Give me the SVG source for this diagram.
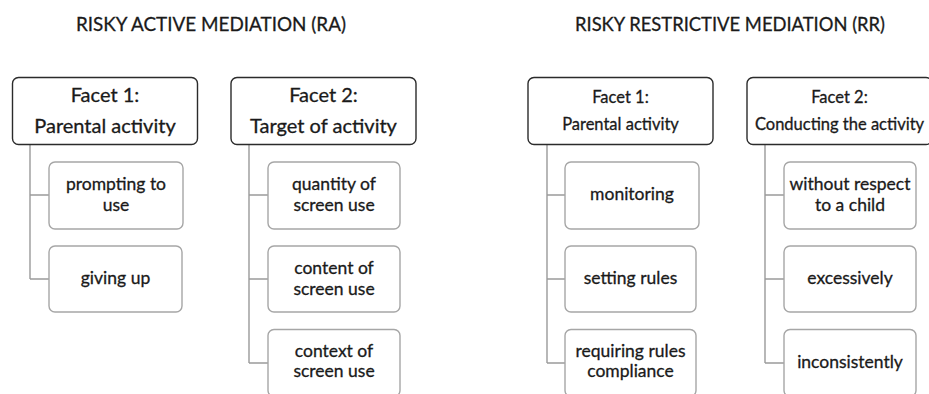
<svg xmlns="http://www.w3.org/2000/svg" width="929" height="394" viewBox="0 0 929 394">
  <style>
    text { font-family: Lato, "Open Sans", "Liberation Sans", sans-serif; fill: #1a1a1a; stroke: #1a1a1a; stroke-width: 0.3; text-anchor: middle; }
    .title { font-size: 20px; text-anchor: start; }
    .hdr { fill: #fff; stroke: #2b2b2b; stroke-width: 1.4; }
    .child { fill: #fff; stroke: #a6a6a6; stroke-width: 1.4; }
    .big { font-size: 20px; }
    .small { font-size: 16.5px; }
    .item { font-size: 17.5px; }
    .conn path { fill: none; stroke: #9a9a9a; stroke-width: 1.4; }
  </style>

  <!-- section titles -->
  <text id="title-ra" class="title" x="76" y="31" textLength="270" lengthAdjust="spacingAndGlyphs">RISKY ACTIVE MEDIATION (RA)</text>
  <text id="title-rr" class="title" x="575" y="31" textLength="310" lengthAdjust="spacingAndGlyphs">RISKY RESTRICTIVE MEDIATION (RR)</text>

  <!-- tree connectors -->
  <g id="connectors" class="conn">
    <path d="M30 144 V279 M30 195 H49 M30 279 H49"/>
    <path d="M249 144 V363 M249 195 H268 M249 279 H268 M249 363 H268"/>
    <path d="M547 144 V363 M547 195 H565 M547 279 H565 M547 363 H565"/>
    <path d="M765 144 V363 M765 195 H784 M765 279 H784 M765 363 H784"/>
  </g>

  <!-- RA facet 1 -->
  <g id="ra-facet1">
    <rect class="hdr" x="12.5" y="77.5" width="185" height="67" rx="6"/>
    <text class="big" x="105" y="101.5">Facet 1:</text>
    <text class="big" x="105" y="133">Parental activity</text>
  </g>
  <g id="ra-prompting">
    <rect class="child" x="49" y="162" width="134" height="67" rx="6"/>
    <text class="item" x="116" y="190">prompting to</text>
    <text class="item" x="116" y="210.5">use</text>
  </g>
  <g id="ra-giving-up">
    <rect class="child" x="49" y="246" width="133" height="66" rx="6"/>
    <text class="item" x="115.5" y="284">giving up</text>
  </g>

  <!-- RA facet 2 -->
  <g id="ra-facet2">
    <rect class="hdr" x="231" y="77.5" width="185" height="67" rx="6"/>
    <text class="big" x="323.5" y="101.5">Facet 2:</text>
    <text class="big" x="323.5" y="133">Target of activity</text>
  </g>
  <g id="ra-quantity">
    <rect class="child" x="268" y="162" width="132" height="67" rx="6"/>
    <text class="item" x="334" y="190">quantity of</text>
    <text class="item" x="334" y="210.5">screen use</text>
  </g>
  <g id="ra-content">
    <rect class="child" x="268" y="246" width="132" height="66" rx="6"/>
    <text class="item" x="334" y="274">content of</text>
    <text class="item" x="334" y="294.5">screen use</text>
  </g>
  <g id="ra-context">
    <rect class="child" x="268" y="329.5" width="132" height="67" rx="6"/>
    <text class="item" x="334" y="357">context of</text>
    <text class="item" x="334" y="377">screen use</text>
  </g>

  <!-- RR facet 1 -->
  <g id="rr-facet1">
    <rect class="hdr" x="528" y="77.5" width="185" height="67" rx="6"/>
    <text class="small" x="620.5" y="102.5">Facet 1:</text>
    <text class="small" x="620.5" y="130">Parental activity</text>
  </g>
  <g id="rr-monitoring">
    <rect class="child" x="565" y="162" width="134" height="67" rx="6"/>
    <text class="item" x="632" y="200">monitoring</text>
  </g>
  <g id="rr-setting-rules">
    <rect class="child" x="565" y="246" width="131" height="66" rx="6"/>
    <text class="item" x="630.5" y="284">setting rules</text>
  </g>
  <g id="rr-requiring">
    <rect class="child" x="565" y="329.5" width="131" height="67" rx="6"/>
    <text class="item" x="630.5" y="357">requiring rules</text>
    <text class="item" x="630.5" y="377">compliance</text>
  </g>

  <!-- RR facet 2 -->
  <g id="rr-facet2">
    <rect class="hdr" x="747" y="77.5" width="185" height="67" rx="6"/>
    <text class="small" x="839.5" y="102.5">Facet 2:</text>
    <text class="small" x="839.5" y="130">Conducting the activity</text>
  </g>
  <g id="rr-without-respect">
    <rect class="child" x="784" y="162" width="132" height="67" rx="6"/>
    <text class="item" x="850" y="190">without respect</text>
    <text class="item" x="850" y="210.5">to a child</text>
  </g>
  <g id="rr-excessively">
    <rect class="child" x="784" y="246" width="132" height="66" rx="6"/>
    <text class="item" x="850" y="284">excessively</text>
  </g>
  <g id="rr-inconsistently">
    <rect class="child" x="784" y="329.5" width="132" height="67" rx="6"/>
    <text class="item" x="850" y="368">inconsistently</text>
  </g>
</svg>
